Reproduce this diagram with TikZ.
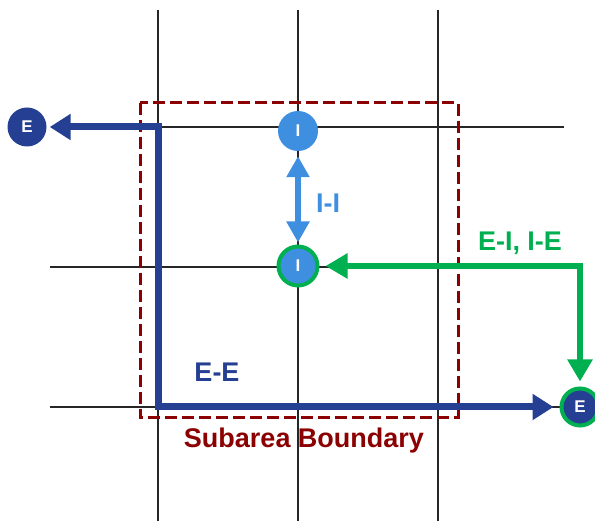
\documentclass[tikz,border=0pt]{standalone}
\usepackage{fontspec}
\setmainfont{Liberation Sans}
\usetikzlibrary{arrows.meta}
\definecolor{darkblue}{HTML}{253F93}
\definecolor{lightblue}{HTML}{3F8FE0}
\definecolor{mygreen}{HTML}{00B050}
\definecolor{myred}{HTML}{8B0000}
\begin{document}
\begin{tikzpicture}[x=1pt,y=-1pt,
  grid/.style={draw=black!85,line width=1.3pt},
  enode/.style={circle,fill=darkblue,text=white,inner sep=0pt,font=\bfseries\fontsize{17}{17}\selectfont},
  inode/.style={circle,fill=lightblue,text=white,inner sep=0pt,font=\bfseries\fontsize{17}{17}\selectfont},
  ringed/.style={draw=mygreen,line width=4pt},
  lbl/.style={font=\bfseries\fontsize{27}{27}\selectfont,inner sep=0pt},
  eeline/.style={draw=darkblue,line width=7pt,line join=miter,
     {Triangle[length=21pt,width=25pt]}-{Triangle[length=21pt,width=25pt]}},
  eiline/.style={draw=mygreen,line width=6.5pt,line join=miter,
     {Triangle[length=22pt,width=24pt]}-{Triangle[length=22pt,width=24pt]}},
  iiline/.style={draw=lightblue,line width=6pt,
     {Triangle[length=21pt,width=22pt]}-{Triangle[length=21pt,width=22pt]}},
  boundary/.style={draw=myred,line width=3pt,dash pattern=on 12pt off 5pt}
]
\useasboundingbox (0,0) rectangle (595,521);
% grid
\draw[grid] (158,10) -- (158,521);
\draw[grid] (298,10) -- (298,521);
\draw[grid] (438,10) -- (438,521);
\draw[grid] (158,127) -- (564,127);
\draw[grid] (50,267) -- (580,267);
\draw[grid] (50,407) -- (560,407);
% boundary
\draw[boundary] (140,103) rectangle (458,418);
% nodes
\node[enode,minimum size=39pt] (El) at (27,127) {E};
\node[inode,minimum size=40pt] (It) at (298,131) {I};
\node[inode,ringed,minimum size=39pt] (Im) at (298,266) {I};
\node[enode,ringed,minimum size=37pt] (Er) at (580,407) {E};
\coordinate (c1) at (158,407);
% connectors
\draw[eeline,shorten <=3pt,shorten >=6pt] (El.east) -| (c1) -- (Er.west);
\draw[eiline,shorten <=6pt,shorten >=5pt] (Im.east) -| (Er.north);
\draw[iiline,shorten <=5pt,shorten >=2pt] (It.south) -- (Im.north);
% labels
\node[lbl,text=lightblue] (lii) at (328,203) {I-I};
\node[lbl,text=mygreen] (lei) at (520,243) {E-I, I-E};
\node[lbl,text=darkblue] (lee) at (217,372) {E-E};
\node[lbl,text=myred] (lsb) at (304,441) {Subarea Boundary};
\end{tikzpicture}
\end{document}
